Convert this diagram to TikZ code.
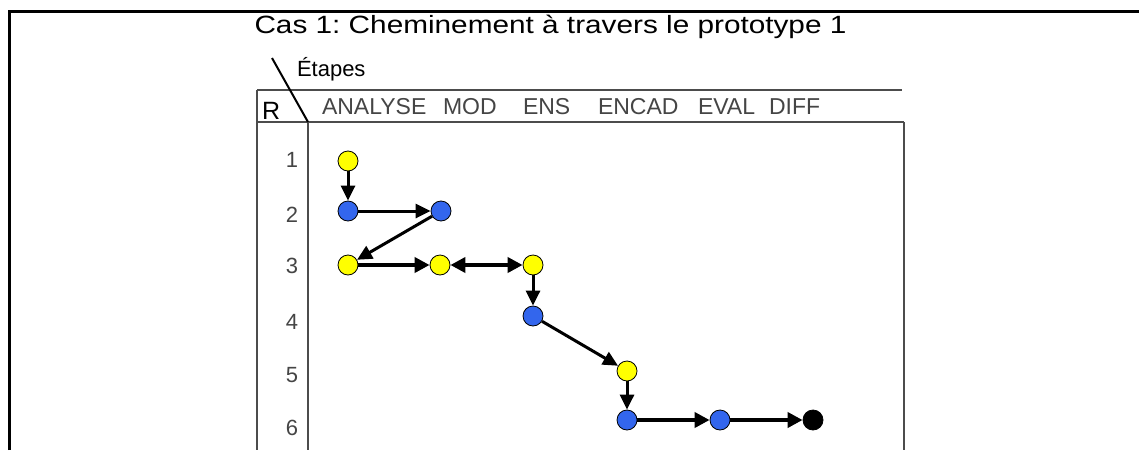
\documentclass[tikz,border=0pt]{standalone}
\usepackage{fontspec}
\setmainfont{Liberation Sans}
\usetikzlibrary{arrows.meta}
\frenchspacing
\definecolor{tablegrey}{rgb}{0.30,0.30,0.30}
\definecolor{labelgrey}{rgb}{0.27,0.27,0.27}
\definecolor{stepyellow}{rgb}{1.00,1.00,0.00}
\definecolor{stepblue}{rgb}{0.20,0.40,0.93}
\tikzset{
  frameline/.style={line width=3pt, black},
  gridline/.style={line width=2pt, tablegrey},
  txt/.style={inner sep=0pt, outer sep=0pt},
  colhead/.style={txt, anchor=base west, text=labelgrey, font=\fontsize{23}{27}\selectfont},
  rownum/.style={txt, anchor=base east, text=labelgrey, font=\fontsize{22}{26}\selectfont},
  dot/.style={circle, draw=black, line width=0.8pt, minimum size=20pt, inner sep=0pt},
  ydot/.style={dot, fill=stepyellow},
  bdot/.style={dot, fill=stepblue},
  kdot/.style={dot, fill=black},
  thin/.style={line width=3pt, -{Triangle[length=15pt, width=14pt]}},
  thick/.style={line width=4.5pt, -{Triangle[length=15pt, width=15pt]}},
  thickboth/.style={line width=4.5pt, {Triangle[length=15pt, width=15pt]}-{Triangle[length=15pt, width=15pt]}},
}
\begin{document}
\begin{tikzpicture}[x=1pt, y=-1pt]
  \useasboundingbox (0,0) rectangle (1139,450);
  \fill[white] (0,0) rectangle (1139,450);

  % outer frame (top and left sides)
  \coordinate (fbl) at (9,450);
  \coordinate (ftl) at (9,11);
  \coordinate (ftr) at (1139,11);
  \draw[frameline] (fbl) -- (ftl) -- (ftr);

  % title, set slightly widened
  \node[txt, anchor=base, font=\fontsize{25}{30}\selectfont] (title) at (550.5,33)
    {\scalebox{1.19}[1]{Cas 1: Cheminement à travers le prototype 1}};

  % table grid
  \coordinate (htl) at (257,90);
  \coordinate (htr) at (902,90);
  \coordinate (hbl) at (257,122);
  \coordinate (hbr) at (904,122);
  \coordinate (bl) at (257,450);
  \coordinate (br) at (904,450);
  \coordinate (st) at (308,122);
  \coordinate (sb) at (308,450);
  \draw[gridline] (htl) -- (htr);
  \draw[gridline] (hbl) -- (hbr);
  \draw[gridline] (htl) -- (bl);
  \draw[gridline] (st) -- (sb);
  \draw[gridline] (hbr) -- (br);

  % corner diagonal
  \coordinate (dtop) at (272,58);
  \draw[line width=2pt, black] (dtop) -- (st);

  \node[txt, anchor=base west, font=\fontsize{22}{26}\selectfont] (etapes) at (297,76) {Étapes};
  \node[txt, anchor=base west, font=\fontsize{25}{30}\selectfont] (rlab) at (262,119) {R};

  % column headings
  \node[colhead] (hanalyse) at (322,114) {ANALYSE};
  \node[colhead] (hmod) at (443,114) {MOD};
  \node[colhead] (hens) at (523,114) {ENS};
  \node[colhead] (hencad) at (598,114) {ENCAD};
  \node[colhead] (heval) at (698,114) {EVAL};
  \node[colhead] (hdiff) at (769,114) {DIFF};

  % row numbers
  \node[rownum] (r1) at (298,167) {1};
  \node[rownum] (r2) at (298,222) {2};
  \node[rownum] (r3) at (298,273) {3};
  \node[rownum] (r4) at (298,329) {4};
  \node[rownum] (r5) at (298,382) {5};
  \node[rownum] (r6) at (298,435) {6};

  % path through the steps
  \node[ydot] (y1)  at (348,161) {};
  \node[bdot] (b2a) at (348,211) {};
  \node[bdot] (b2b) at (441,211) {};
  \node[ydot] (y3a) at (348,265) {};
  \node[ydot] (y3b) at (440,265) {};
  \node[ydot] (y3c) at (533,265) {};
  \node[bdot] (b4)  at (533,316) {};
  \node[ydot] (y5)  at (627,371) {};
  \node[bdot] (b6a) at (627,420) {};
  \node[bdot] (b6b) at (720,420) {};
  \node[kdot] (k6)  at (813,420) {};

  \draw[thin] (y1) -- (b2a);
  \draw[thin] (b2a) -- (b2b);
  \draw[thin] (b2b) -- (y3a);
  \draw[thick] (y3a) -- (y3b);
  \draw[thickboth] (y3b) -- (y3c);
  \draw[thin] (y3c) -- (b4);
  \draw[thin] (b4) -- (y5);
  \draw[thin] (y5) -- (b6a);
  \draw[thick] (b6a) -- (b6b);
  \draw[thick] (b6b) -- (k6);
\end{tikzpicture}
\end{document}
